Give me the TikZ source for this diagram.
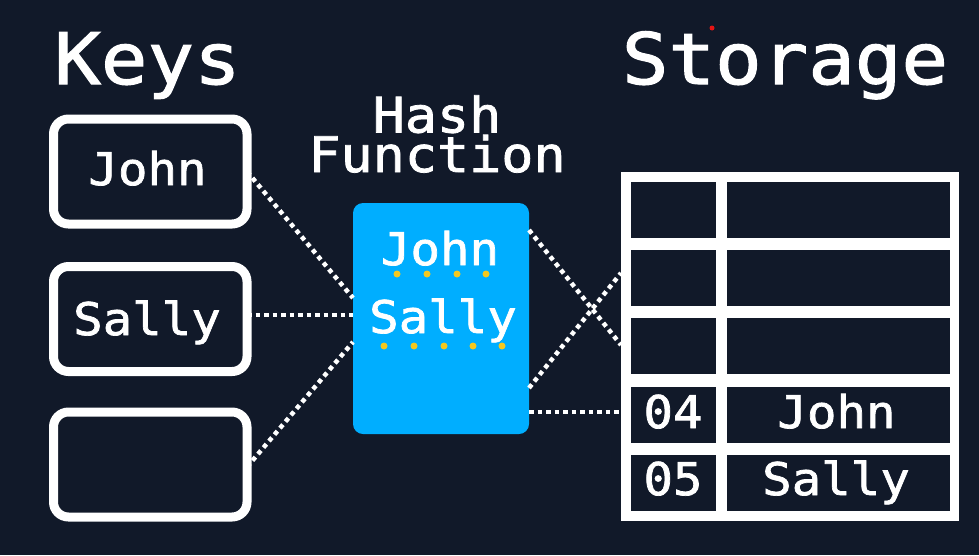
\documentclass[tikz,border=0pt]{standalone}
\usepackage{fontspec}
\usetikzlibrary{calc}
\newfontfamily\mono[FakeStretch=1.09,FakeBold=1.6]{DejaVu Sans Mono}
\definecolor{bg}{RGB}{17,25,41}
\definecolor{hashblue}{RGB}{0,174,255}
\definecolor{dotyellow}{RGB}{245,200,30}
\definecolor{laser}{RGB}{230,20,20}
\begin{document}
\begin{tikzpicture}[x=1pt,y=-1pt,
  title/.style={text=white, inner sep=0, anchor=base, font=\mono\fontsize{71}{71}\selectfont},
  subtitle/.style={text=white, inner sep=0, anchor=base, align=center, font=\mono\fontsize{49}{39.5}\selectfont},
  label/.style={text=white, inner sep=0, anchor=base, font=\mono\fontsize{45}{45}\selectfont},
  keybox/.style={draw=white, line width=9pt, rounded corners=15pt, minimum width=193.5pt, minimum height=105pt, inner sep=0, outer sep=0},
  hashbox/.style={fill=hashblue, rounded corners=10pt, minimum width=176pt, minimum height=231pt, inner sep=0, outer sep=0},
  tablebg/.style={fill=white, minimum width=338pt, minimum height=349pt, inner sep=0, outer sep=0},
  cellL/.style={fill=bg, minimum width=85pt, minimum height=56pt, inner sep=0, outer sep=0},
  cellR/.style={fill=bg, minimum width=223pt, minimum height=56pt, inner sep=0, outer sep=0},
  conn/.style={draw=white, line width=4.5pt, dash pattern=on 4.5pt off 4pt},
  ydot/.style={fill=dotyellow}
]
\useasboundingbox (0,0) rectangle (979,555);
\fill[bg] (0,0) rectangle (979,555);

% titles
\node[title] (keys) at (147.5,84) {Keys};
\node[title] (storage) at (785,84) {Storage};
\node[subtitle] (hash) at (437,172) {Hash\\Function};
\fill[laser] (712,28) circle (2.5);

% key boxes
\node[keybox] (k1) at (150.25,171.5) {};
\node[keybox] (k2) at (150.25,319) {};
\node[keybox] (k3) at (150.25,464.5) {};
\node[label] (k1t) at (147.5,185) {John};
\node[label] (k2t) at (147,335) {Sally};

% hash function
\node[hashbox] (hf) at (441,318.5) {};
\node[label] (hfj) at (440,265) {John};
\node[label] (hfs) at (443,333) {Sally};
\foreach \x in {397,427,457,486} \fill[ydot] (\x,274) circle (3.5);
\foreach \x in {384,414,444,473,502} \fill[ydot] (\x,346) circle (3.5);

% storage table
\node[tablebg] (tbl) at (790,346.5) {};
\node[cellL] (r1l) at (673.5,209.5) {};
\node[cellR] (r1r) at (838.5,209.5) {};
\node[cellL] (r2l) at (673.5,278) {};
\node[cellR] (r2r) at (838.5,278) {};
\node[cellL] (r3l) at (673.5,345.5) {};
\node[cellR] (r3r) at (838.5,345.5) {};
\node[cellL] (r4l) at (673.5,414.5) {};
\node[cellR] (r4r) at (838.5,414.5) {};
\node[cellL] (r5l) at (673.5,483) {};
\node[cellR] (r5r) at (838.5,483) {};
\node[label] (n04) at (673,428) {04};
\node[label] (n05) at (673,495) {05};
\node[label] (sj) at (836.5,428) {John};
\node[label] (ss) at (836,495) {Sally};

% connectors
\draw[conn] (k1.east) -- ($(hf.west)+(0,-20.5)$);
\draw[conn] ($(k2.east)+(0,-4)$) -- ($(hf.west)+(0,-3.5)$);
\draw[conn] ($(k3.east)+(0,2.5)$) -- ($(hf.west)+(0,23.5)$);
\draw[conn] ($(hf.east)+(0,-88.5)$) -- ($(tbl.west)+(0,-1.5)$);
\draw[conn] ($(hf.east)+(0,69.5)$) -- ($(tbl.west)+(0,-73.5)$);
\draw[conn] ($(hf.east)+(0,93.5)$) -- ($(tbl.west)+(0,65.5)$);
\end{tikzpicture}
\end{document}
